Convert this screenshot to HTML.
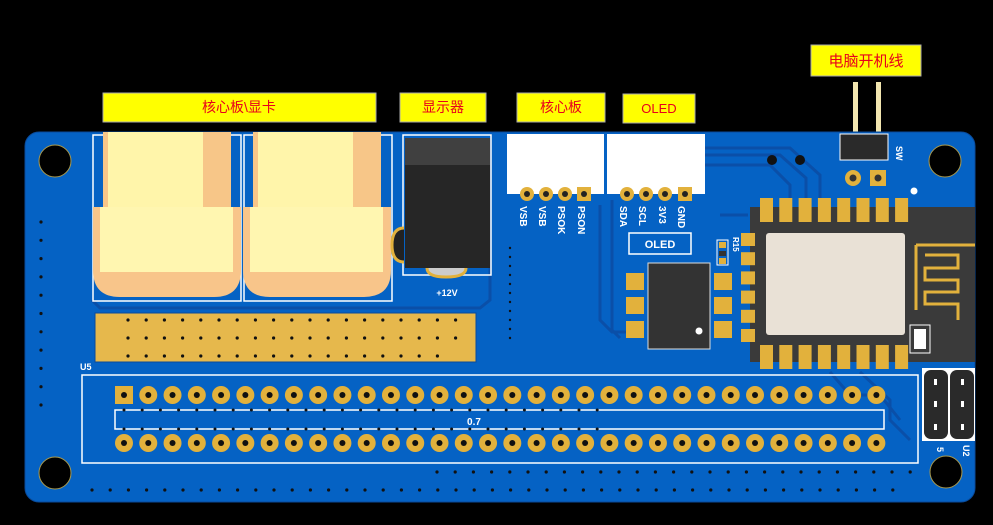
<!DOCTYPE html>
<html><head><meta charset="utf-8"><style>
html,body{margin:0;padding:0;background:#000;}
svg{display:block;}
.lbl{font-family:"Liberation Sans","Noto Sans CJK SC",sans-serif;font-size:14px;fill:#e8001c;}
.silk{font-family:"Liberation Sans",sans-serif;font-weight:bold;fill:#fff;}
</style></head><body>
<svg id="s" width="993" height="525" viewBox="0 0 993 525" xmlns="http://www.w3.org/2000/svg">
<rect width="993" height="525" fill="#000"/>
<!-- labels -->
<rect x="103" y="93" width="273" height="29" fill="#ffff00" stroke="#aaa" stroke-width="1"/>
<text class="lbl" x="239" y="112" text-anchor="middle">核心板\显卡</text>
<rect x="400" y="93" width="86" height="29" fill="#ffff00" stroke="#aaa"/>
<text class="lbl" x="443" y="112" text-anchor="middle">显示器</text>
<rect x="517" y="93" width="88" height="29" fill="#ffff00" stroke="#aaa"/>
<text class="lbl" x="561" y="112" text-anchor="middle">核心板</text>
<rect x="623" y="94" width="72" height="29" fill="#ffff00" stroke="#aaa"/>
<text class="lbl" x="659" y="113" text-anchor="middle" style="font-size:13px">OLED</text>
<rect x="811" y="45" width="110" height="31" fill="#ffff00" stroke="#aaa"/>
<text class="lbl" x="866" y="66" text-anchor="middle" style="font-size:15px">电脑开机线</text>
<!-- header pins top -->
<rect x="853" y="82" width="5" height="56" fill="#f3e6b0"/>
<rect x="876" y="82" width="5" height="56" fill="#f3e6b0"/>
<!-- board -->
<rect x="25" y="132" width="950" height="370" rx="14" fill="#0562c4" stroke="#0a4a9a" stroke-width="1"/>
<!-- traces -->
<g fill="none" stroke="#0a4fa8" stroke-width="3">
<path d="M705 148 H790 L820 175 V205"/>
<path d="M705 155 H780 L806 178 V205"/>
<path d="M705 165 H770 L790 185 V205"/>
<path d="M600 205 V320 L612 332 H640"/>
<path d="M612 200 V330 L620 338"/>
<path d="M720 215 H748"/>
<path d="M860 372 L890 400 V420 L910 440"/>
<path d="M830 372 L850 395 H880 L900 420"/>
<path d="M92 300 L100 308 H480 L490 300 V140"/>
</g>
<!-- mounting holes -->
<g fill="#000" stroke="#a89a50" stroke-width="1">
<circle cx="55" cy="161" r="16"/><circle cx="945" cy="161" r="16"/>
<circle cx="55" cy="473" r="16"/><circle cx="946" cy="472" r="16"/>
</g>
<!-- XT60 outlines -->
<rect x="93" y="135" width="148" height="166" fill="none" stroke="#fff" stroke-width="1.5"/>
<rect x="244" y="135" width="148" height="166" fill="none" stroke="#fff" stroke-width="1.5"/>
<g id="xt">
<rect x="103" y="132" width="128" height="78" fill="#f7c688"/>
<rect x="108" y="132" width="95" height="78" fill="#fff5aa"/>
<path d="M93 207 H241 V270 Q241 297 214 297 H120 Q93 297 93 270 Z" fill="#f8c58a"/>
<rect x="100" y="207" width="133" height="65" fill="#fff6b0"/>
</g>
<use href="#xt" x="150"/>
<text class="silk" x="447" y="296" font-size="9" text-anchor="middle">+12V</text>
<!-- DC jack -->
<rect x="403" y="135" width="88" height="140" fill="none" stroke="#fff" stroke-width="1.5"/>
<path d="M404 228 Q392 228 392 245 Q392 262 404 262" fill="#222" stroke="#e2b13c" stroke-width="3"/>
<rect x="405" y="138" width="85" height="130" fill="#262626"/>
<rect x="405" y="138" width="85" height="27" fill="#404040"/>
<path d="M427 268 Q427 277 446 277 Q466 277 466 268" fill="#ccc" stroke="#e2b13c" stroke-width="3"/>
<!-- gold area -->
<rect x="95" y="313" width="381" height="49" fill="#e6b84c" stroke="#0a4a9a"/>
<g id="golddots" fill="#111"></g>
<!-- white connectors -->
<rect x="507" y="134" width="97" height="60" fill="#fff"/>
<rect x="607" y="134" width="98" height="60" fill="#fff"/>
<g id="cpins"></g>
<g class="silk" font-size="10">
<text transform="translate(520,206) rotate(90)">VSB</text>
<text transform="translate(539,206) rotate(90)">VSB</text>
<text transform="translate(558,206) rotate(90)">PSOK</text>
<text transform="translate(578,206) rotate(90)">PSON</text>
<text transform="translate(620,206) rotate(90)">SDA</text>
<text transform="translate(639,206) rotate(90)">SCL</text>
<text transform="translate(659,206) rotate(90)">3V3</text>
<text transform="translate(678,206) rotate(90)">GND</text>
<text transform="translate(896,146) rotate(90)" font-size="9">SW</text>
<text transform="translate(733,237) rotate(90)" font-size="8">R15</text>
</g>
<rect x="629" y="233" width="62" height="21" fill="none" stroke="#fff" stroke-width="1.5"/>
<text class="silk" x="660" y="248" font-size="11" text-anchor="middle">OLED</text>
<!-- R15 -->
<rect x="717" y="240" width="11" height="25" fill="none" stroke="#fff"/>
<rect x="719" y="242" width="7" height="6" fill="#e2b13c"/><rect x="719" y="251" width="7" height="5" fill="#333"/><rect x="719" y="258" width="7" height="6" fill="#e2b13c"/>
<!-- SOIC -->
<g fill="#e2b13c">
<rect x="626" y="273" width="18" height="17"/><rect x="626" y="297" width="18" height="17"/><rect x="626" y="321" width="18" height="17"/>
<rect x="714" y="273" width="18" height="17"/><rect x="714" y="297" width="18" height="17"/><rect x="714" y="321" width="18" height="17"/>
</g>
<rect x="648" y="263" width="62" height="86" fill="#333" stroke="#ddd" stroke-width="1"/>
<circle cx="699" cy="331" r="3.5" fill="#fff"/>
<!-- ESP module -->
<rect x="750" y="207" width="225" height="155" fill="#3a3a3a"/>
<rect x="766" y="233" width="139" height="102" rx="3" fill="#e9e1d6"/>
<g id="esp" fill="#e2b13c"></g>
<path d="M916 245 H975 M916 245 V310 M925 255 H958 V268 H925 V280 H958 V292 H925 V304 H958 V320" fill="none" stroke="#e2b13c" stroke-width="3"/>
<rect x="910" y="325" width="20" height="28" fill="none" stroke="#fff"/><rect x="914" y="329" width="12" height="20" fill="#fff"/>
<!-- SW header -->
<rect x="840" y="134" width="48" height="26" fill="#2a2a2a" stroke="#fff" stroke-width="1"/>
<circle cx="853" cy="178" r="8" fill="#e2b13c"/><circle cx="853" cy="178" r="3.5" fill="#333"/>
<rect x="870" y="170" width="16" height="16" fill="#e2b13c"/><circle cx="878" cy="178" r="3.5" fill="#333"/>
<circle cx="914" cy="191" r="3.5" fill="#fff"/>
<circle cx="772" cy="160" r="5" fill="#111"/><circle cx="800" cy="160" r="5" fill="#111"/>
<!-- U5 -->
<text class="silk" x="80" y="370" font-size="9">U5</text>
<rect x="82" y="375" width="836" height="88" fill="none" stroke="#fff" stroke-width="1.5"/>
<rect x="115" y="410" width="769" height="19" fill="none" stroke="#fff" stroke-width="1.5"/>
<text class="silk" x="474" y="425" font-size="10" text-anchor="middle">0.7</text>
<g id="pins"></g>
<g id="dots" fill="#111"></g>
<!-- right small header -->
<rect x="922" y="368" width="53" height="73" fill="#fff"/>
<g fill="#2a2a2a">
<rect x="924" y="370" width="24" height="69" rx="7"/><rect x="950" y="370" width="24" height="69" rx="7"/>
</g>
<g fill="#fff"><rect x="934" y="379" width="3" height="6"/><rect x="934" y="401" width="3" height="6"/><rect x="934" y="424" width="3" height="6"/>
<rect x="961" y="379" width="3" height="6"/><rect x="961" y="401" width="3" height="6"/><rect x="961" y="424" width="3" height="6"/></g>
<text class="silk" transform="translate(937,447) rotate(90)" font-size="9">5</text>
<text class="silk" transform="translate(963,445) rotate(90)" font-size="9">U2</text>
</svg>
<script>
var NS="http://www.w3.org/2000/svg";
function el(p,t,a){var e=document.createElementNS(NS,t);for(var k in a)e.setAttribute(k,a[k]);document.getElementById(p).appendChild(e);return e;}
for(var r=0;r<3;r++)for(var c=0;c<19;c++){if(r==2&&c>17)continue;el("golddots","circle",{cx:128+c*18.2,cy:320+r*18,r:1.6});}
var cx=[527,546,565,584,627,646,665,685];
cx.forEach(function(x,i){if(i==3||i==7){el("cpins","rect",{x:x-7,y:187,width:14,height:14,fill:"#e2b13c"});}else el("cpins","circle",{cx:x,cy:194,r:7,fill:"#e2b13c"});el("cpins","circle",{cx:x,cy:194,r:3,fill:"#222"});});
for(var i=0;i<8;i++){var x=760+i*19.3;el("esp","rect",{x:x,y:198,width:13,height:24});el("esp","rect",{x:x,y:345,width:13,height:24});}
for(var i=0;i<6;i++){el("esp","rect",{x:741,y:233+i*19.2,width:14,height:13});}
for(var r=0;r<2;r++)for(var c=0;c<32;c++){var x=124+c*24.27,y=r?443:395;
 if(r==0&&c==0)el("pins","rect",{x:x-9,y:y-9,width:18,height:18,fill:"#e2b13c"});else el("pins","circle",{cx:x,cy:y,r:9,fill:"#e2b13c"});
 el("pins","circle",{cx:x,cy:y,r:3,fill:"#111"});}
for(var c=0;c<27;c++){el("dots","circle",{cx:124+c*18.2,cy:410,r:1.5});el("dots","circle",{cx:124+c*18.2,cy:429,r:1.5});}
for(var i=0;i<11;i++)el("dots","circle",{cx:41,cy:222+i*18.3,r:1.6});
for(var c=0;c<45;c++)el("dots","circle",{cx:92+c*18.2,cy:490,r:1.6});
for(var c=0;c<27;c++)el("dots","circle",{cx:437+c*18.2,cy:472,r:1.6});
for(var i=0;i<11;i++)el("dots","circle",{cx:510,cy:248+i*9,r:1.2});
</script>
</body></html>
